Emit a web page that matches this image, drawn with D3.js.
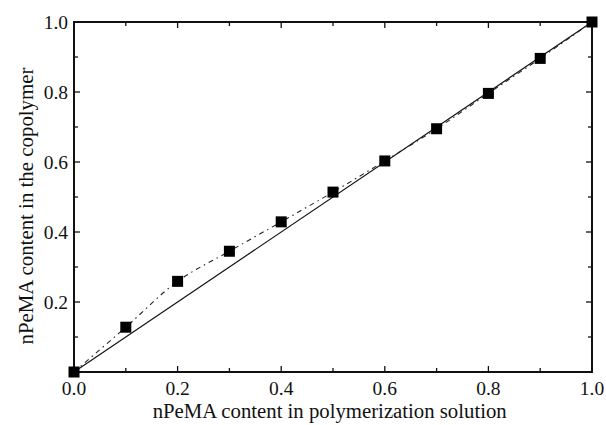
<!DOCTYPE html>
<html><head><meta charset="utf-8">
<script src="https://cdn.jsdelivr.net/npm/d3@7"></script>
<style>body{margin:0;background:#fff}svg{display:block}text{font-family:"Liberation Serif","Times New Roman",serif;fill:#111}</style>
</head><body>
<script>
const xVals = [0.0,0.1,0.2,0.3,0.4,0.5,0.6,0.7,0.8,0.9,1.0];
const yVals = [0.0,0.128,0.259,0.345,0.429,0.514,0.603,0.695,0.796,0.896,1.0];
const diagX = [0,1];
const xTicks = [0.0,0.2,0.4,0.6,0.8,1.0];
const yTicks = [0.2,0.4,0.6,0.8,1.0];
const minorTicks = [0.1,0.3,0.5,0.7,0.9];
const xTitle = "nPeMA content in polymerization solution";
const yTitle = "nPeMA content in the copolymer";

const W=606,H=425;
const m={l:74,r:14,t:22,b:53};
const svg=d3.select("body").append("svg").attr("width",W).attr("height",H);
const x=d3.scaleLinear().domain([0,1]).range([m.l,W-m.r]);
const y=d3.scaleLinear().domain([0,1]).range([H-m.b,m.t]);
const fmt=d3.format(".1f");

svg.append("rect").attr("x",x(0)).attr("y",y(1)).attr("width",x(1)-x(0)).attr("height",y(0)-y(1))
  .attr("fill","none").attr("stroke","#111").attr("stroke-width",2);

const g=svg.append("g");
function ticks(vals,len){
  vals.forEach(v=>{
    g.append("line").attr("x1",x(v)).attr("x2",x(v)).attr("y1",y(0)).attr("y2",y(0)-len).attr("stroke","#111").attr("stroke-width",1.3);
    g.append("line").attr("x1",x(v)).attr("x2",x(v)).attr("y1",y(1)).attr("y2",y(1)+len).attr("stroke","#111").attr("stroke-width",1.3);
    g.append("line").attr("y1",y(v)).attr("y2",y(v)).attr("x1",x(0)).attr("x2",x(0)+len).attr("stroke","#111").attr("stroke-width",1.3);
    g.append("line").attr("y1",y(v)).attr("y2",y(v)).attr("x1",x(1)).attr("x2",x(1)-len).attr("stroke","#111").attr("stroke-width",1.3);
  });
}
ticks(xTicks.slice(1,5),6);
ticks(minorTicks,4);

svg.selectAll(".xt").data(xTicks).enter().append("text")
  .attr("x",d=>x(d)).attr("y",y(0)+23).attr("text-anchor","middle").attr("font-size",19.5).text(fmt);
svg.selectAll(".yt").data(yTicks).enter().append("text")
  .attr("x",x(0)-6).attr("y",d=>y(d)+6.5).attr("text-anchor","end").attr("font-size",19.5).text(fmt);

svg.append("text").attr("x",329.7).attr("y",417.5).attr("text-anchor","middle").attr("font-size",20)
  .attr("textLength",354).attr("lengthAdjust","spacingAndGlyphs").text(xTitle);
svg.append("text").attr("transform",`translate(33,206) rotate(-90)`).attr("text-anchor","middle").attr("font-size",20)
  .attr("textLength",277).attr("lengthAdjust","spacingAndGlyphs").text(yTitle);

svg.append("path").datum(diagX).attr("d",d3.line().x(d=>x(d)).y(d=>y(d)))
  .attr("stroke","#111").attr("stroke-width",1.2).attr("fill","none");
const pts=xVals.map((v,i)=>[v,yVals[i]]);
svg.append("path").datum(pts).attr("d",d3.line().x(d=>x(d[0])).y(d=>y(d[1])).curve(d3.curveCatmullRom))
  .attr("stroke","#222").attr("stroke-width",1.1).attr("fill","none").attr("stroke-dasharray","5,4,1.5,4");
const s=11;
svg.selectAll(".pt").data(pts).enter().append("rect")
  .attr("x",d=>x(d[0])-s/2).attr("y",d=>y(d[1])-s/2).attr("width",s).attr("height",s).attr("fill","#000");
</script>
</body></html>
